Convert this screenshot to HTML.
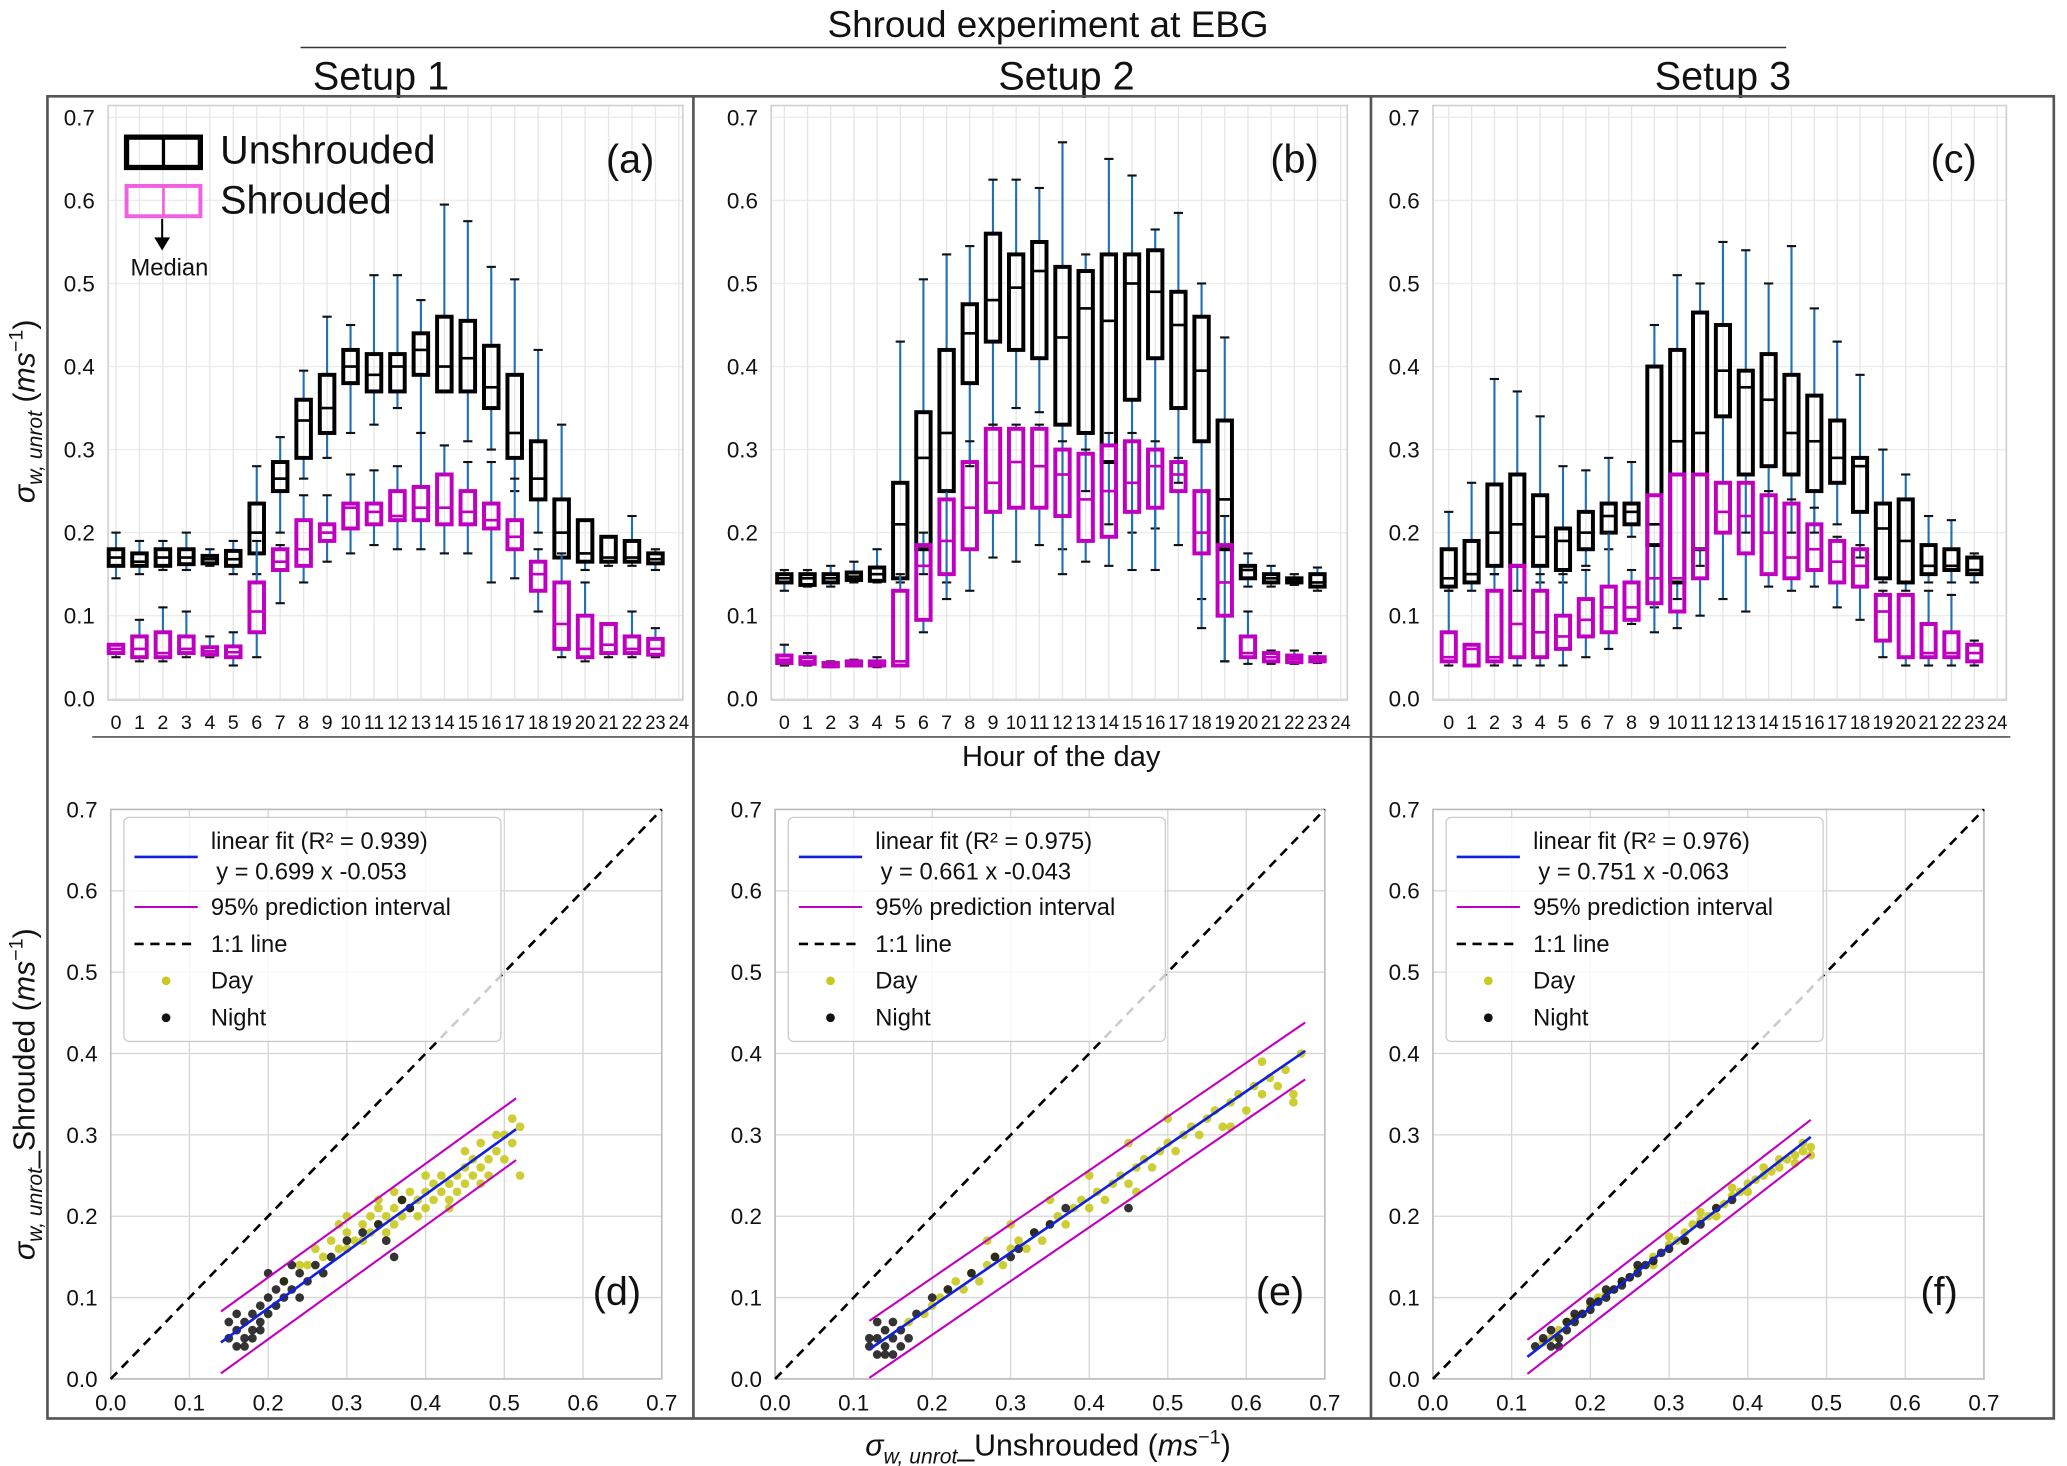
<!DOCTYPE html>
<html><head><meta charset="utf-8"><style>
html,body{margin:0;padding:0;background:#fff}
svg{display:block}
text{font-family:"Liberation Sans",Arial,sans-serif}
</style></head><body>
<svg id="fig" width="2067" height="1466" viewBox="0 0 1568 1112" xmlns="http://www.w3.org/2000/svg"></svg>
<script>
// ===== Data: box plots [low, q1, median, q3, high] per hour 0..23 =====
const hours = [0,1,2,3,4,5,6,7,8,9,10,11,12,13,14,15,16,17,18,19,20,21,22,23];
const yTicksTop = [0.0,0.1,0.2,0.3,0.4,0.5,0.6,0.7];
const xTicksTop = ["0","1","2","3","4","5","6","7","8","9","10","11","12","13","14","15","16","17","18","19","20","21","22","23","24"];
const aUnshrouded = [[0.145,0.16,0.17,0.18,0.20],[0.15,0.16,0.165,0.175,0.19],[0.155,0.16,0.17,0.18,0.19],[0.155,0.162,0.17,0.18,0.20],[0.16,0.163,0.168,0.172,0.18],[0.15,0.16,0.168,0.178,0.19],[0.15,0.175,0.2,0.235,0.28],[0.2,0.25,0.265,0.285,0.315],[0.265,0.29,0.335,0.36,0.395],[0.29,0.32,0.35,0.39,0.46],[0.32,0.38,0.40,0.42,0.45],[0.33,0.37,0.39,0.415,0.51],[0.35,0.37,0.40,0.415,0.51],[0.32,0.39,0.42,0.44,0.48],[0.37,0.37,0.40,0.46,0.595],[0.31,0.37,0.41,0.455,0.575],[0.30,0.35,0.375,0.425,0.52],[0.25,0.29,0.32,0.39,0.505],[0.2,0.24,0.265,0.31,0.42],[0.17,0.17,0.2,0.24,0.33],[0.155,0.165,0.175,0.215,0.215],[0.16,0.165,0.17,0.195,0.195],[0.16,0.165,0.17,0.19,0.22],[0.155,0.163,0.168,0.175,0.18]];
const aShrouded = [[0.05,0.055,0.06,0.065,0.065],[0.045,0.05,0.06,0.075,0.095],[0.045,0.05,0.055,0.08,0.11],[0.05,0.055,0.06,0.075,0.105],[0.05,0.053,0.057,0.062,0.075],[0.04,0.05,0.056,0.063,0.08],[0.05,0.08,0.105,0.14,0.19],[0.115,0.155,0.165,0.18,0.185],[0.14,0.16,0.18,0.215,0.245],[0.165,0.19,0.2,0.21,0.245],[0.175,0.205,0.23,0.235,0.27],[0.185,0.21,0.225,0.235,0.275],[0.18,0.215,0.22,0.25,0.28],[0.18,0.215,0.23,0.255,0.32],[0.175,0.21,0.23,0.27,0.305],[0.175,0.21,0.225,0.25,0.285],[0.14,0.205,0.215,0.235,0.285],[0.145,0.18,0.195,0.215,0.265],[0.105,0.13,0.15,0.165,0.18],[0.05,0.06,0.09,0.14,0.175],[0.045,0.05,0.06,0.1,0.14],[0.05,0.055,0.065,0.09,0.09],[0.05,0.055,0.06,0.075,0.105],[0.05,0.053,0.06,0.072,0.085]];
const bUnshrouded = [[0.13,0.14,0.145,0.15,0.155],[0.135,0.137,0.145,0.15,0.155],[0.135,0.14,0.145,0.15,0.16],[0.14,0.143,0.147,0.152,0.165],[0.14,0.142,0.15,0.158,0.18],[0.14,0.145,0.21,0.26,0.43],[0.15,0.18,0.29,0.345,0.505],[0.14,0.25,0.32,0.42,0.535],[0.28,0.38,0.44,0.475,0.545],[0.33,0.43,0.48,0.56,0.625],[0.35,0.42,0.495,0.535,0.625],[0.345,0.41,0.515,0.55,0.615],[0.18,0.33,0.435,0.52,0.67],[0.25,0.32,0.47,0.515,0.535],[0.21,0.285,0.455,0.535,0.65],[0.2,0.36,0.50,0.535,0.63],[0.205,0.41,0.49,0.54,0.565],[0.26,0.35,0.45,0.49,0.585],[0.12,0.31,0.395,0.46,0.5],[0.045,0.18,0.24,0.335,0.435],[0.135,0.145,0.155,0.16,0.175],[0.135,0.14,0.145,0.15,0.16],[0.137,0.14,0.142,0.145,0.15],[0.13,0.135,0.14,0.15,0.158]];
const bShrouded = [[0.04,0.043,0.047,0.052,0.065],[0.04,0.042,0.045,0.05,0.055],[0.038,0.039,0.041,0.043,0.045],[0.039,0.04,0.042,0.045,0.047],[0.038,0.04,0.042,0.045,0.05],[0.04,0.04,0.045,0.13,0.15],[0.08,0.095,0.16,0.185,0.2],[0.12,0.15,0.19,0.24,0.25],[0.13,0.18,0.23,0.285,0.31],[0.17,0.225,0.26,0.325,0.33],[0.165,0.23,0.285,0.325,0.33],[0.185,0.23,0.28,0.325,0.33],[0.15,0.22,0.27,0.3,0.31],[0.165,0.19,0.24,0.295,0.3],[0.16,0.195,0.25,0.305,0.32],[0.155,0.225,0.26,0.31,0.32],[0.155,0.23,0.28,0.3,0.31],[0.185,0.25,0.27,0.285,0.29],[0.085,0.175,0.2,0.25,0.25],[0.045,0.1,0.14,0.185,0.22],[0.042,0.05,0.055,0.075,0.105],[0.042,0.045,0.05,0.055,0.058],[0.042,0.044,0.048,0.052,0.058],[0.043,0.045,0.047,0.05,0.055]];
const cUnshrouded = [[0.13,0.135,0.145,0.18,0.225],[0.13,0.14,0.15,0.19,0.26],[0.15,0.16,0.2,0.258,0.385],[0.13,0.16,0.21,0.27,0.37],[0.14,0.16,0.195,0.245,0.34],[0.14,0.155,0.19,0.205,0.28],[0.16,0.18,0.20,0.225,0.275],[0.18,0.2,0.22,0.235,0.29],[0.195,0.21,0.225,0.235,0.285],[0.11,0.185,0.21,0.40,0.45],[0.12,0.14,0.31,0.42,0.51],[0.16,0.18,0.32,0.465,0.50],[0.26,0.34,0.395,0.45,0.55],[0.2,0.27,0.375,0.395,0.54],[0.2,0.28,0.36,0.415,0.50],[0.2,0.27,0.32,0.39,0.545],[0.20,0.25,0.31,0.365,0.47],[0.21,0.26,0.29,0.335,0.43],[0.17,0.225,0.28,0.29,0.39],[0.14,0.145,0.205,0.235,0.30],[0.13,0.14,0.19,0.24,0.27],[0.14,0.15,0.16,0.185,0.22],[0.14,0.155,0.16,0.18,0.215],[0.14,0.15,0.155,0.17,0.175]];
const cShrouded = [[0.04,0.045,0.05,0.08,0.13],[0.04,0.04,0.06,0.065,0.065],[0.04,0.045,0.05,0.13,0.15],[0.04,0.05,0.09,0.16,0.16],[0.04,0.05,0.08,0.13,0.15],[0.04,0.06,0.075,0.1,0.15],[0.05,0.075,0.095,0.12,0.155],[0.06,0.08,0.11,0.135,0.2],[0.09,0.095,0.11,0.14,0.155],[0.08,0.115,0.145,0.245,0.245],[0.085,0.105,0.145,0.27,0.27],[0.1,0.145,0.18,0.27,0.27],[0.12,0.2,0.225,0.26,0.26],[0.105,0.175,0.22,0.26,0.26],[0.135,0.15,0.2,0.245,0.25],[0.13,0.145,0.17,0.235,0.24],[0.135,0.155,0.18,0.21,0.23],[0.11,0.14,0.165,0.19,0.195],[0.095,0.135,0.16,0.18,0.185],[0.05,0.07,0.105,0.125,0.13],[0.04,0.05,0.05,0.125,0.125],[0.04,0.05,0.055,0.09,0.13],[0.04,0.05,0.055,0.08,0.125],[0.04,0.045,0.055,0.065,0.07]];

// ===== Data: scatter panels =====
const scatterTicks = [0.0,0.1,0.2,0.3,0.4,0.5,0.6,0.7];
const dDayX = [0.25,0.27,0.28,0.29,0.30,0.30,0.31,0.32,0.32,0.33,0.33,0.34,0.34,0.35,0.35,0.36,0.36,0.37,0.37,0.38,0.38,0.39,0.39,0.40,0.40,0.41,0.41,0.42,0.42,0.43,0.43,0.44,0.44,0.45,0.45,0.46,0.46,0.47,0.47,0.48,0.48,0.49,0.50,0.50,0.51,0.52,0.51,0.22,0.24,0.26,0.43,0.49,0.30,0.36,0.40,0.45,0.47,0.34,0.29,0.52];
const dDayY = [0.14,0.15,0.17,0.16,0.18,0.16,0.17,0.19,0.17,0.18,0.20,0.19,0.21,0.20,0.18,0.21,0.19,0.20,0.22,0.21,0.23,0.22,0.20,0.23,0.21,0.24,0.22,0.23,0.25,0.24,0.22,0.25,0.23,0.26,0.24,0.25,0.27,0.26,0.24,0.27,0.25,0.28,0.27,0.30,0.29,0.31,0.32,0.12,0.14,0.16,0.21,0.30,0.20,0.23,0.25,0.28,0.29,0.22,0.19,0.25];
const dNightX = [0.15,0.16,0.16,0.17,0.17,0.17,0.18,0.18,0.18,0.19,0.19,0.19,0.20,0.20,0.21,0.21,0.22,0.22,0.23,0.24,0.24,0.25,0.26,0.27,0.28,0.30,0.32,0.34,0.35,0.37,0.38,0.36,0.20,0.23,0.16,0.15];
const dNightY = [0.05,0.04,0.06,0.05,0.07,0.04,0.06,0.08,0.05,0.07,0.09,0.06,0.08,0.10,0.09,0.11,0.10,0.12,0.11,0.13,0.10,0.12,0.14,0.13,0.15,0.17,0.18,0.19,0.17,0.22,0.21,0.15,0.13,0.14,0.08,0.07];
const eDayX = [0.17,0.19,0.20,0.21,0.22,0.23,0.24,0.25,0.26,0.27,0.28,0.29,0.30,0.31,0.32,0.33,0.34,0.35,0.36,0.37,0.38,0.39,0.40,0.41,0.42,0.43,0.44,0.45,0.46,0.47,0.48,0.49,0.50,0.51,0.52,0.53,0.54,0.55,0.56,0.57,0.58,0.59,0.60,0.61,0.62,0.63,0.64,0.65,0.66,0.67,0.66,0.62,0.58,0.50,0.46,0.40,0.35,0.30,0.27,0.45];
const eDayY = [0.07,0.08,0.09,0.10,0.11,0.12,0.11,0.13,0.12,0.14,0.15,0.14,0.16,0.17,0.16,0.18,0.17,0.19,0.20,0.19,0.21,0.22,0.21,0.23,0.22,0.24,0.25,0.24,0.26,0.27,0.26,0.28,0.29,0.28,0.30,0.31,0.30,0.32,0.33,0.31,0.34,0.35,0.33,0.36,0.35,0.37,0.36,0.38,0.35,0.40,0.34,0.39,0.31,0.32,0.23,0.25,0.22,0.19,0.17,0.29];
const eNightX = [0.12,0.13,0.13,0.14,0.14,0.15,0.15,0.16,0.16,0.17,0.13,0.12,0.15,0.14,0.18,0.20,0.22,0.25,0.28,0.31,0.33,0.35,0.45,0.37,0.30];
const eNightY = [0.04,0.05,0.03,0.04,0.06,0.05,0.03,0.04,0.06,0.05,0.07,0.05,0.07,0.03,0.08,0.10,0.11,0.13,0.15,0.16,0.18,0.19,0.21,0.21,0.15];
const fDayX = [0.14,0.16,0.18,0.20,0.22,0.24,0.26,0.28,0.30,0.31,0.32,0.33,0.34,0.35,0.36,0.37,0.38,0.39,0.40,0.41,0.42,0.43,0.44,0.45,0.46,0.47,0.48,0.48,0.46,0.44,0.42,0.40,0.38,0.36,0.34,0.32,0.30,0.28,0.25,0.23,0.21,0.19,0.17,0.15,0.47];
const fDayY = [0.045,0.06,0.075,0.09,0.105,0.12,0.135,0.15,0.165,0.17,0.18,0.19,0.195,0.20,0.21,0.215,0.225,0.23,0.24,0.245,0.25,0.255,0.26,0.27,0.275,0.28,0.285,0.275,0.265,0.27,0.26,0.23,0.235,0.20,0.205,0.17,0.175,0.14,0.125,0.11,0.10,0.08,0.07,0.05,0.29];
const fNightX = [0.13,0.14,0.15,0.15,0.16,0.17,0.17,0.18,0.19,0.20,0.21,0.22,0.23,0.24,0.24,0.25,0.26,0.26,0.27,0.28,0.29,0.30,0.32,0.34,0.36,0.38,0.20,0.22,0.18,0.16];
const fNightY = [0.04,0.05,0.04,0.06,0.05,0.06,0.07,0.07,0.08,0.085,0.095,0.10,0.11,0.12,0.115,0.125,0.13,0.14,0.14,0.145,0.155,0.16,0.17,0.19,0.21,0.22,0.095,0.11,0.08,0.04];
// fit: slope, intercept, PI half-width, x range
const fitSlopes = [0.699,0.661,0.751];
const fitIntercepts = [-0.053,-0.043,-0.063];
const fitPI = [0.038,0.035,0.021];
const fitXmin = [0.14,0.12,0.12];
const fitXmax = [0.515,0.675,0.48];
const fitR2 = ["0.939","0.975","0.976"];

const NS="http://www.w3.org/2000/svg";
const svg=document.getElementById('fig');
function mk(tag,attrs,parent){const e=document.createElementNS(NS,tag);for(const k in attrs)e.setAttribute(k,attrs[k]);(parent||svg).appendChild(e);return e;}
function txt(s,x,y,size,anchor,parent){const t=mk('text',{x:x,y:y,'font-size':size,'text-anchor':anchor||'start',fill:'#111'},parent);t.textContent=s;return t;}

// ===== frame & titles =====
let g=mk('g',{});


txt('Shroud experiment at EBG',795,28,28,'middle',g);
mk('line',{x1:228,y1:36,x2:1355,y2:36,stroke:'#333','stroke-width':1.2});
const setups=[['Setup 1',289],['Setup 2',809],['Setup 3',1307]];
setups.forEach((s,i)=>{const t=txt(s[0],s[1],68,30,'middle');});
let fr=mk('rect',{x:36,y:73,width:1522,height:1003,fill:'none',stroke:'#555','stroke-width':2});


mk('line',{x1:526,y1:73,x2:526,y2:1076,stroke:'#555','stroke-width':2});
mk('line',{x1:1040,y1:73,x2:1040,y2:1076,stroke:'#555','stroke-width':2});
mk('line',{x1:70,y1:559,x2:1525,y2:559,stroke:'#555','stroke-width':1.2});
let ht=txt('Hour of the day',805,581,22,'middle');



// y titles
function rotTitle(x,y,name,parts){const t=mk('text',{x:x,y:y,'font-size':23,'text-anchor':'middle',transform:`rotate(-90 ${x} ${y})`,fill:'#111'});parts.forEach(p=>{const s=mk('tspan',p[1]||{},t);s.textContent=p[0];});return t;}
rotTitle(26,312,'y-axis-title-top',[['σ',{'font-style':'italic'}],['w, unrot',{'font-style':'italic','font-size':16,dy:6}],[' (',{dy:-6}],['ms',{'font-style':'italic'}],['−1',{'font-size':15,dy:-9}],[')',{dy:9}]]);
rotTitle(26,830,'y-axis-title-bottom',[['σ',{'font-style':'italic'}],['w, unrot',{'font-style':'italic','font-size':16,dy:6}],['_Shrouded (',{dy:-6}],['ms',{'font-style':'italic'}],['−1',{'font-size':15,dy:-9}],[')',{dy:9}]]);
(function(){const t=mk('text',{x:795,y:1104,'font-size':23,'text-anchor':'middle',fill:'#111'});[['σ',{'font-style':'italic'}],['w, unrot',{'font-style':'italic','font-size':16,dy:6}],['_Unshrouded (',{dy:-6}],['ms',{'font-style':'italic'}],['−1',{'font-size':15,dy:-9}],[')',{dy:9}]].forEach(p=>{const s=mk('tspan',p[1],t);s.textContent=p[0];});})();

// ===== box panels =====
const boxPanels=[
 {id:'a',x0:82,x1:518,h0:88,h24:515,un:aUnshrouded,sh:aShrouded},
 {id:'b',x0:585,x1:1022,h0:595,h24:1017,un:bUnshrouded,sh:bShrouded},
 {id:'c',x0:1087,x1:1522,h0:1099,h24:1515,un:cUnshrouded,sh:cShrouded}];
const TOP=80,BOT=531,Y0=530,Y07=89;
boxPanels.forEach(p=>{
  const pg=mk('g',{});
  
  
  const sy=v=>Y0-(Y0-Y07)*v/0.7;
  const sx=h=>p.h0+(p.h24-p.h0)*h/24;
  const bw=(p.h24-p.h0)/24*0.62;
  yTicksTop.forEach(v=>{mk('line',{x1:p.x0,x2:p.x1,y1:sy(v),y2:sy(v),stroke:'#ececec','stroke-width':1},pg);const t=txt(v.toFixed(1),p.x0-10,sy(v)+6,17,'end',pg);});
  xTicksTop.forEach((s,i)=>{mk('line',{x1:sx(i),x2:sx(i),y1:TOP,y2:BOT,stroke:'#e6e6e6','stroke-width':1},pg);const t=txt(s,sx(i),553,15,'middle',pg);if(s.length>1)t.setAttribute('textLength',15.5),t.setAttribute('lengthAdjust','spacingAndGlyphs');});
  mk('rect',{x:p.x0,y:TOP,width:p.x1-p.x0,height:BOT-TOP,fill:'none',stroke:'#cfcfcf','stroke-width':1.2},pg);
  [[p.un,'#000','unshrouded'],[p.sh,'#c000c0','shrouded']].forEach(([data,col,nm])=>{
    hours.forEach((h,i)=>{const d=data[i];const x=sx(h);
      const bg=mk('g',{},pg);
      
      
      mk('line',{x1:x,x2:x,y1:sy(d[0]),y2:sy(d[1]),stroke:'#1f6fb4','stroke-width':1.6},bg);
      mk('line',{x1:x,x2:x,y1:sy(d[3]),y2:sy(d[4]),stroke:'#1f6fb4','stroke-width':1.6},bg);
      mk('line',{x1:x-3.5,x2:x+3.5,y1:sy(d[0]),y2:sy(d[0]),stroke:'#111','stroke-width':1.6},bg);
      mk('line',{x1:x-3.5,x2:x+3.5,y1:sy(d[4]),y2:sy(d[4]),stroke:'#111','stroke-width':1.6},bg);
      mk('rect',{x:x-bw/2,y:sy(d[3]),width:bw,height:Math.max(sy(d[1])-sy(d[3]),1),fill:'none',stroke:col,'stroke-width':3},bg);
      mk('line',{x1:x-bw/2,x2:x+bw/2,y1:sy(d[2]),y2:sy(d[2]),stroke:col,'stroke-width':2},bg);
    });
  });
  const L=txt('('+p.id+')',p.x1-40,131,30,'middle',pg);
  
  
});
// top legend
(function(){const lg=mk('g',{});
 
 
 mk('rect',{x:96,y:104,width:56,height:23,fill:'none',stroke:'#000','stroke-width':4},lg);
 mk('line',{x1:124,x2:124,y1:104,y2:127,stroke:'#000','stroke-width':2.5},lg);
 txt('Unshrouded',167,124,30,'start',lg);
 mk('rect',{x:96,y:141,width:56,height:23,fill:'none',stroke:'#f060e0','stroke-width':3},lg);
 mk('line',{x1:124,x2:124,y1:141,y2:164,stroke:'#f060e0','stroke-width':2},lg);
 txt('Shrouded',167,162,30,'start',lg);
 mk('line',{x1:123,x2:123,y1:166,y2:181,stroke:'#000','stroke-width':1.5},lg);
 mk('polygon',{points:'117,180 129,180 123,190',fill:'#000'},lg);
 txt('Median',99,209,18,'start',lg);
})();

// ===== scatter panels =====
const scPanels=[
 {id:'d',x0:84,x1:502,dx:dDayX,dy:dDayY,nx:dNightX,ny:dNightY},
 {id:'e',x0:588,x1:1005,dx:eDayX,dy:eDayY,nx:eNightX,ny:eNightY},
 {id:'f',x0:1087,x1:1505,dx:fDayX,dy:fDayY,nx:fNightX,ny:fNightY}];
const ST=614,SB=1046;
scPanels.forEach((p,k)=>{
  const pg=mk('g',{});
  
  
  const sx=v=>p.x0+(p.x1-p.x0)*v/0.7, sy=v=>SB-(SB-ST)*v/0.7;
  scatterTicks.forEach(v=>{
    mk('line',{x1:p.x0,x2:p.x1,y1:sy(v),y2:sy(v),stroke:'#d6d6d6','stroke-width':1},pg);
    mk('line',{x1:sx(v),x2:sx(v),y1:ST,y2:SB,stroke:'#d6d6d6','stroke-width':1},pg);
    let t=txt(v.toFixed(1),p.x0-10,sy(v)+6,17,'end',pg);
    t=txt(v.toFixed(1),sx(v),1070,17,'middle',pg);
  });
  mk('rect',{x:p.x0,y:ST,width:p.x1-p.x0,height:SB-ST,fill:'none',stroke:'#bbb','stroke-width':1.2},pg);
  let l=mk('line',{x1:sx(0),y1:sy(0),x2:sx(0.7),y2:sy(0.7),stroke:'#000','stroke-width':2,'stroke-dasharray':'7,5'},pg);
  
  p.dx.forEach((x,i)=>{const c=mk('circle',{cx:sx(x),cy:sy(p.dy[i]),r:3.3,fill:'#c8c81e','fill-opacity':0.9},pg);});
  p.nx.forEach((x,i)=>{const c=mk('circle',{cx:sx(x),cy:sy(p.ny[i]),r:3.3,fill:'#111','fill-opacity':0.85},pg);});
  const m=fitSlopes[k],b=fitIntercepts[k],w=fitPI[k],a0=fitXmin[k],a1=fitXmax[k];
  [[w,'pi-upper'],[-w,'pi-lower']].forEach(([o,n])=>{const e=mk('line',{x1:sx(a0),y1:sy(m*a0+b+o),x2:sx(a1),y2:sy(m*a1+b+o),stroke:'#c000c0','stroke-width':1.6},pg);});
  l=mk('line',{x1:sx(a0),y1:sy(m*a0+b),x2:sx(a1),y2:sy(m*a1+b),stroke:'#1020e0','stroke-width':2},pg);
  
  // legend
  const lg=mk('g',{},pg);
  
  
  const lx=p.x0+10;
  mk('rect',{x:lx,y:620,width:286,height:170,rx:4,fill:'#fff','fill-opacity':0.8,stroke:'#ccc','stroke-width':1},lg);
  mk('line',{x1:lx+8,x2:lx+56,y1:650,y2:650,stroke:'#1020e0','stroke-width':2},lg);
  txt('linear fit (R² = '+fitR2[k]+')',lx+66,644,18,'start',lg);
  txt('y = '+m.toFixed(3)+' x '+b.toFixed(3),lx+70,667,18,'start',lg);
  mk('line',{x1:lx+8,x2:lx+56,y1:688,y2:688,stroke:'#c000c0','stroke-width':1.6},lg);
  txt('95% prediction interval',lx+66,694,18,'start',lg);
  mk('line',{x1:lx+8,x2:lx+56,y1:716,y2:716,stroke:'#000','stroke-width':2,'stroke-dasharray':'7,5'},lg);
  txt('1:1 line',lx+66,722,18,'start',lg);
  mk('circle',{cx:lx+32,cy:744,r:3.3,fill:'#c8c81e'},lg);
  txt('Day',lx+66,750,18,'start',lg);
  mk('circle',{cx:lx+32,cy:772,r:3.3,fill:'#111'},lg);
  txt('Night',lx+66,778,18,'start',lg);
  const L=txt('('+p.id+')',p.x1-34,990,30,'middle',pg);
  
  
});
</script>
</body></html>
